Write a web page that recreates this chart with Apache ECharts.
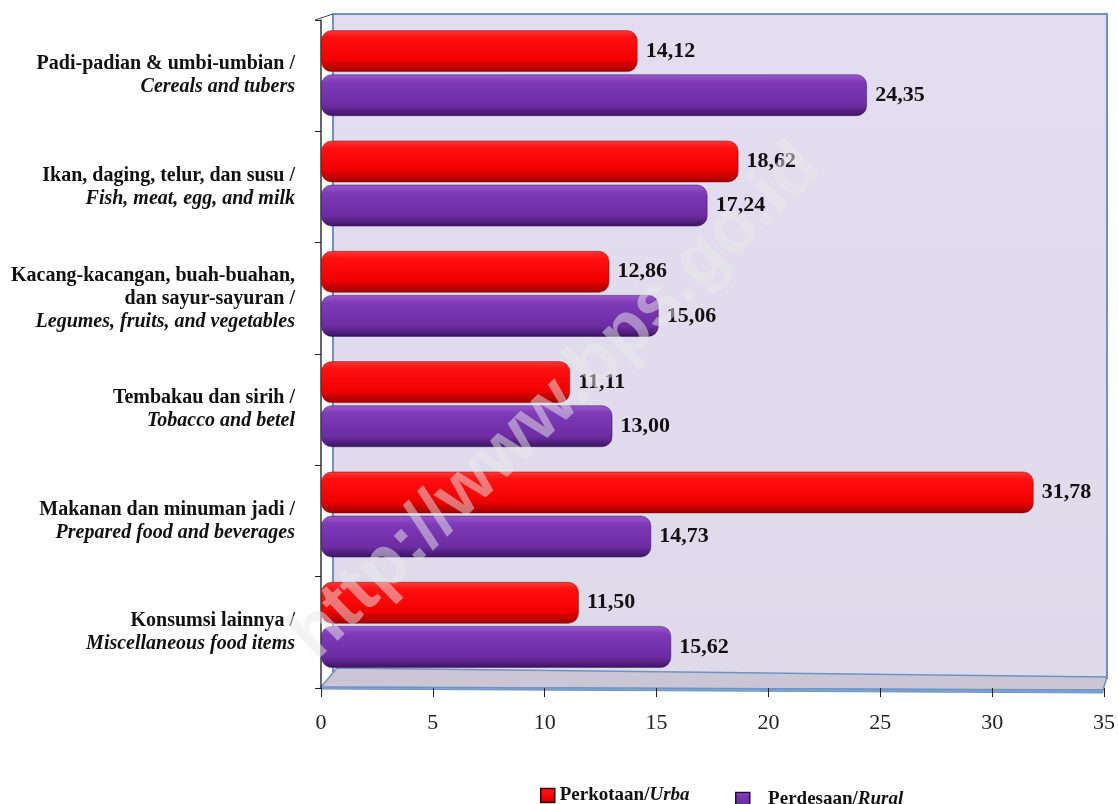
<!DOCTYPE html>
<html>
<head>
<meta charset="utf-8">
<script src="https://cdn.jsdelivr.net/npm/echarts@6/dist/echarts.min.js"></script>
<style>
  html, body { margin: 0; padding: 0; background: #ffffff; }
  #chart { width: 1118px; height: 804px; }
</style>
</head>
<body>
<div id="chart"></div>
<script>
// Food consumption shares (%) by group, urban vs rural
const groupsId = [
  'Padi-padian & umbi-umbian /',
  'Ikan, daging, telur, dan susu /',
  'Kacang-kacangan, buah-buahan,\ndan sayur-sayuran /',
  'Tembakau dan sirih /',
  'Makanan dan minuman jadi /',
  'Konsumsi lainnya /'
];
const groupsEn = [
  'Cereals and tubers',
  'Fish, meat, egg, and milk',
  'Legumes, fruits, and vegetables',
  'Tobacco and betel',
  'Prepared food and beverages',
  'Miscellaneous food items'
];
const urban = [14.12, 18.62, 12.86, 11.11, 31.78, 11.50];
const rural = [24.35, 17.24, 15.06, 13.00, 14.73, 15.62];
const xTicks = [0, 5, 10, 15, 20, 25, 30, 35];

const serif = '"Liberation Serif", "Times New Roman", serif';
const categories = groupsId.map((g, i) => i);

function catLabel(i) {
  const lines = groupsId[i].split('\n').map(l => '{b|' + l + '}');
  lines.push('{i|' + groupsEn[i] + '}');
  return lines.join('\n');
}

const fmt = v => v.toFixed(2).replace('.', ',');

const redFill = new echarts.graphic.LinearGradient(0, 0, 0, 1, [
  { offset: 0, color: '#ff3a3a' },
  { offset: 0.18, color: '#ff1010' },
  { offset: 0.7, color: '#f20000' },
  { offset: 1, color: '#9c0000' }
]);
const purpleFill = new echarts.graphic.LinearGradient(0, 0, 0, 1, [
  { offset: 0, color: '#9b58cc' },
  { offset: 0.2, color: '#7e3ab8' },
  { offset: 0.75, color: '#6c2ca2' },
  { offset: 1, color: '#3c1462' }
]);

const chart = echarts.init(document.getElementById('chart'));

const valueLabel = {
  show: true,
  position: 'right',
  distance: 8,
  formatter: p => fmt(p.value),
  fontFamily: serif,
  fontWeight: 'bold',
  fontSize: 22,
  color: '#111'
};

const legendRich = {
  b: { fontFamily: serif, fontWeight: 'bold', fontSize: 19, color: '#111' },
  i: { fontFamily: serif, fontWeight: 'bold', fontStyle: 'italic', fontSize: 19, color: '#111' }
};

chart.setOption({
  animation: false,
  backgroundColor: '#ffffff',
  grid: [
    { left: 321, right: 12, top: 20, bottom: 116 },
    { left: 321, right: 12, top: 18, bottom: 124 }
  ],
  xAxis: [
    {
      gridIndex: 0, type: 'value', min: 0, max: 35, interval: 5,
      splitLine: { show: false },
      axisLine: { show: false },
      axisTick: { show: true, length: 9, lineStyle: { color: '#222', width: 1 } },
      axisLabel: {
        margin: 24, fontFamily: serif, fontSize: 22, color: '#222',
        formatter: v => (xTicks.indexOf(v) >= 0 ? String(v) : '')
      }
    },
    {
      gridIndex: 1, type: 'value', min: 0, max: 35, interval: 5, show: false
    }
  ],
  yAxis: [
    {
      gridIndex: 0, type: 'category', inverse: true, data: categories,
      axisLine: { show: true, lineStyle: { color: '#333', width: 1.5 } },
      axisTick: { show: true, length: 6, lineStyle: { color: '#222' } },
      axisLabel: {
        margin: 26,
        formatter: v => catLabel(Number(v)),
        rich: {
          b: { fontFamily: serif, fontWeight: 'bold', fontSize: 20, color: '#111', lineHeight: 23, align: 'right' },
          i: { fontFamily: serif, fontWeight: 'bold', fontStyle: 'italic', fontSize: 20, color: '#111', lineHeight: 23, align: 'right' }
        }
      }
    },
    {
      gridIndex: 1, type: 'category', inverse: true, data: categories, show: false
    }
  ],
  legend: [
    {
      data: ['Perkotaan'], left: 540, top: 786, padding: 0, itemWidth: 14, itemHeight: 14, itemGap: 4,
      icon: 'rect',
      itemStyle: { borderColor: '#3a0000', borderWidth: 1.5 },
      formatter: () => '{b|Perkotaan/}{i|Urba}',
      textStyle: { rich: legendRich }
    },
    {
      data: ['Perdesaan'], left: 735, top: 790, padding: 0, itemWidth: 14, itemHeight: 14,
      icon: 'rect',
      itemStyle: { borderColor: '#1e0838', borderWidth: 1.5 },
      formatter: () => '    {b|Perdesaan/}{i|Rural}',
      textStyle: { rich: legendRich }
    }
  ],
  graphic: [
    // back wall
    {
      type: 'rect', z: -20, silent: true,
      shape: { x: 333, y: 14, width: 774, height: 664 },
      style: {
        fill: new echarts.graphic.LinearGradient(0, 0, 0, 1, [
          { offset: 0, color: '#e3deef' },
          { offset: 1, color: '#dedaea' }
        ]),
        stroke: '#6d93c4', lineWidth: 2
      }
    },
    // left wall top edge
    {
      type: 'line', z: -19, silent: true,
      shape: { x1: 315, y1: 20, x2: 333, y2: 14 },
      style: { stroke: '#444', lineWidth: 1 }
    },
    // floor, top face
    {
      type: 'polygon', z: -18, silent: true,
      shape: { points: [[337, 668], [1107, 677], [1103, 690], [321, 687]] },
      style: { fill: '#cbc6d6', stroke: '#6d93c4', lineWidth: 1.5 }
    },
    // floor, front edge
    {
      type: 'polygon', z: -17, silent: true,
      shape: { points: [[321, 687], [1103, 690], [1103, 693], [321, 689]] },
      style: { fill: '#7fa3cf', stroke: '#6d93c4', lineWidth: 1 }
    },
    // watermark
    {
      type: 'text', z: 100, silent: true,
      x: 556, y: 402, rotation: 44 * Math.PI / 180,
      style: {
        text: 'http://www.bps.go.id',
        fontFamily: '"Liberation Sans", Arial, sans-serif',
        fontWeight: 'bold', fontSize: 72,
        fill: 'rgba(232,232,232,0.5)',
        align: 'center', verticalAlign: 'middle'
      }
    }
  ],
  series: [
    {
      name: 'Perkotaan', type: 'bar', xAxisIndex: 1, yAxisIndex: 1,
      data: urban, barWidth: 42, barGap: '5%',
      itemStyle: { color: redFill, borderRadius: 10, borderColor: 'rgba(110,0,0,0.45)', borderWidth: 1 },
      label: valueLabel
    },
    {
      name: 'Perdesaan', type: 'bar', xAxisIndex: 1, yAxisIndex: 1,
      data: rural, barWidth: 42,
      itemStyle: { color: purpleFill, borderRadius: 10, borderColor: 'rgba(40,10,70,0.45)', borderWidth: 1 },
      label: valueLabel
    }
  ]
});
</script>
</body>
</html>
